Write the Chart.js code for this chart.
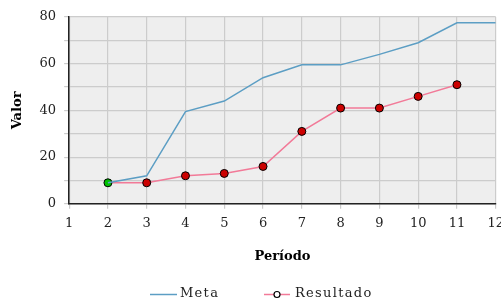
<!DOCTYPE html>
<html><head><meta charset="utf-8">
<script src="https://cdn.jsdelivr.net/npm/chart.js@4"></script>
<style>html,body{margin:0;padding:0;background:#fff;overflow:hidden}#wrap{width:501px;height:300px;overflow:hidden}</style>
</head><body><div id="wrap"><canvas id="c" width="511" height="300"></canvas></div>
<script>
const metaPeriods = [2,3,4,5,6,7,8,9,10,11,12];
const metaValues = [9,12,39.5,44,54,59.5,59.5,64,69,77.5,77.5];
const resPeriods = [2,3,4,5,6,7,8,9,10,11];
const resValues = [9,9,12,13,16,31,41,41,46,51];
const seriesNames = ['Meta','Resultado'];
const xTitle = 'Período';
const yTitle = 'Valor';

const metaColor = '#5c9ec4';
const resColor = '#f27a98';
const bgPlugin = {id:'bg', beforeDraw(chart){const a=chart.chartArea,c=chart.ctx;c.save();c.fillStyle='#eeeeee';c.fillRect(a.left,a.top,a.right-a.left,a.bottom-a.top);c.restore();}};
const legendPlugin = {id:'customLegend', afterDraw(chart){
  const c = chart.ctx; c.save();
  c.font = '13px "DejaVu Serif"';
  try{ c.letterSpacing = '1.3px'; }catch(e){}
  c.textBaseline = 'middle'; c.fillStyle = '#222';
  const y = 294;
  const ds = chart.data.datasets;
  let x = 150;
  c.strokeStyle = ds[0].borderColor; c.lineWidth = 1.5;
  c.beginPath(); c.moveTo(x, y+0.5); c.lineTo(x+27, y+0.5); c.stroke();
  c.fillText(ds[0].label, x+30, y);
  x = 264;
  c.strokeStyle = ds[1].borderColor;
  c.beginPath(); c.moveTo(x, y+0.5); c.lineTo(x+26, y+0.5); c.stroke();
  c.beginPath(); c.arc(x+13, y+0.5, 3, 0, Math.PI*2); c.fillStyle='#fff'; c.fill();
  c.strokeStyle='#000'; c.lineWidth=1.2; c.stroke();
  c.fillStyle = '#222';
  c.fillText(ds[1].label, x+31, y);
  c.restore();
}};
new Chart(document.getElementById('c'), {
  type:'line',
  data:{datasets:[
    {label:seriesNames[0], data:metaPeriods.map((p,i)=>({x:p,y:metaValues[i]})), borderColor:metaColor, borderWidth:1.5, pointRadius:0, tension:0},
    {label:seriesNames[1], data:resPeriods.map((p,i)=>({x:p,y:resValues[i]})), borderColor:resColor, borderWidth:1.5, pointRadius:4, pointHoverRadius:4,
     pointBackgroundColor:resPeriods.map((p,i)=>i===0?'#00c000':'#cc0000'), pointBorderColor:'#000', pointBorderWidth:1, tension:0}
  ]},
  options:{
    responsive:false, animation:false,
    layout:{padding:{top:17,right:0,left:10,bottom:28}},
    plugins:{ tooltip:{enabled:false}, legend:{display:false} },
    scales:{
      x:{type:'linear', min:1, max:12,
        ticks:{stepSize:1, color:'#222', font:{family:'DejaVu Serif',size:13}, padding:7},
        grid:{color:'#cccccc', lineWidth:1.2, tickLength:5},
        border:{color:'#222', width:1.5},
        title:{display:true, text:xTitle, font:{family:'DejaVu Serif',size:13,weight:'bold'}, color:'#000', padding:{top:10,bottom:8}}
      },
      y:{min:0, max:80,
        ticks:{stepSize:10, color:'#222', font:{family:'DejaVu Serif',size:13}, padding:8, callback:v=>v%20===0?String(v):''},
        grid:{color:'#cccccc', lineWidth:1.2, tickLength:5},
        border:{color:'#222', width:1.5},
        title:{display:true, text:yTitle, font:{family:'DejaVu Serif',size:13,weight:'bold'}, color:'#000', padding:{top:0,bottom:6}}
      }
    }
  },
  plugins:[bgPlugin, legendPlugin]
});
</script></body></html>
